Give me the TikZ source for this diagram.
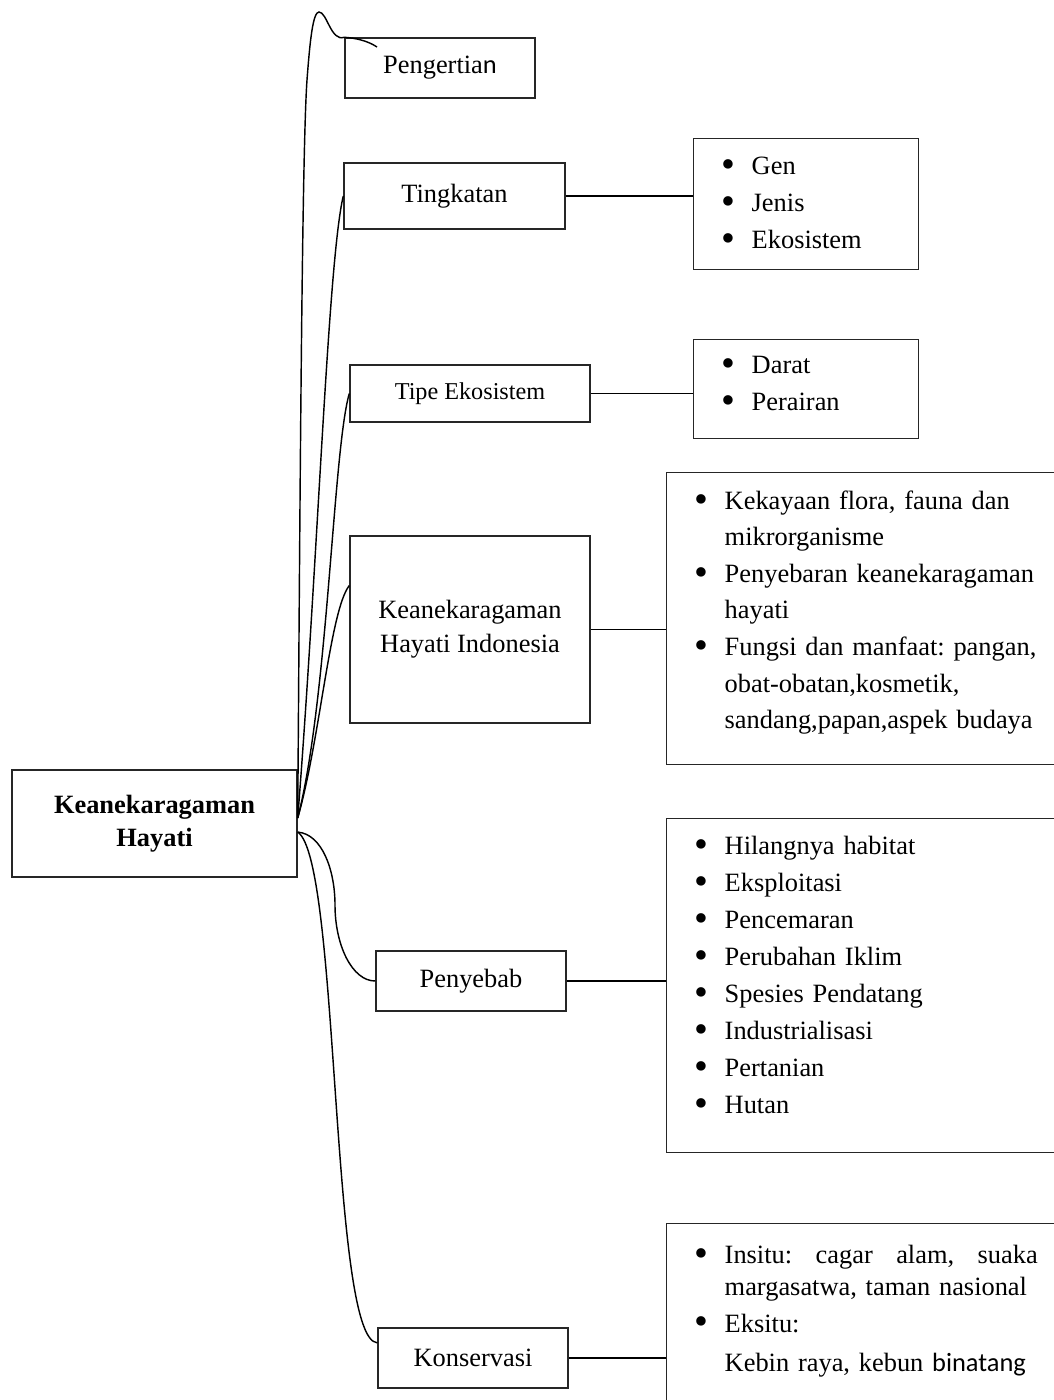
\documentclass[tikz,border=0pt]{standalone}
\usepackage{fontspec}
\setmainfont{Liberation Serif}
\newfontfamily\calibrifont{Carlito}
\usepackage{tikz}
\frenchspacing

% one pixel of the page
\newdimen\pxu
\pxu=0.4545pt
\newcommand{\itm}[1]{\makebox[30\pxu][l]{\raisebox{-1.3pt}{\scalebox{1.5}{\textbullet}}}#1}
\newcommand{\cnt}[1]{\hspace*{30\pxu}#1}
\newcommand{\lift}[1]{\rule[-#1]{0pt}{#1}}

\begin{document}
\begin{tikzpicture}[
    x=0.4545pt, y=-0.4545pt,
    line width=0.65pt,
    node style/.style={draw=black!85, align=center, inner sep=0pt,
      font=\fontsize{12}{15.5}\selectfont},
    list style/.style={draw=black!85, align=left, anchor=north west, inner xsep=28\pxu,
      inner ysep=0pt, font=\fontsize{12}{16.8}\selectfont}
  ]
  \useasboundingbox (0,0) rectangle (1053,1400);

  % Root
  \node[node style, minimum width=285\pxu, minimum height=107\pxu,
    font=\bfseries\fontsize{12}{15}\selectfont] (hayati) at (154.5,823.5)
    {Keanekaragaman\\Hayati};

  % Branches
  \node[node style, minimum width=190\pxu, minimum height=60\pxu] (pengertian) at (440,68)
    {Pengertia{\calibrifont n}};
  \node[node style, minimum width=221\pxu, minimum height=66\pxu] (tingkatan) at (454.5,196)
    {Tingkatan};
  \node[node style, minimum width=240\pxu, minimum height=57\pxu,
    font=\fontsize{11}{13}\selectfont] (tipe) at (470,393.5) {Tipe Ekosistem};
  \node[node style, minimum width=240\pxu, minimum height=187\pxu] (khi) at (470,629.5)
    {Keanekaragaman\\Hayati Indonesia};
  \node[node style, minimum width=190\pxu, minimum height=60\pxu] (penyebab) at (471,981)
    {Penyebab};
  \node[node style, minimum width=190\pxu, minimum height=60\pxu] (konservasi) at (473,1358)
    {Konservasi};

  % Lists
  \node[list style, minimum height=131\pxu, text width=169\pxu] (tingList) at (693,138)
    {\itm{Gen}\\\itm{Jenis}\\\itm{Ekosistem}};
  \node[list style, minimum height=99\pxu, text width=169\pxu] (tipeList) at (693,339)
    {\itm{Darat}\\\itm{Perairan}\lift{5.5pt}};
  \node[list style, minimum height=292\pxu, text width=370\pxu,
    font=\fontsize{12}{16.6}\selectfont] (khiList) at (666,472)
    {\itm{Kekayaan flora, fauna dan}\\\cnt{mikrorganisme}\\
     \itm{Penyebaran keanekaragaman}\\\cnt{hayati}\\
     \itm{Fungsi dan manfaat: pangan,}\\\cnt{obat-obatan,kosmetik,}\\
     \cnt{sandang,papan,aspek budaya}\lift{8.2pt}};
  \node[list style, minimum height=334\pxu, text width=370\pxu] (penList) at (666,818)
    {\itm{Hilangnya habitat}\\\itm{Eksploitasi}\\\itm{Pencemaran}\\
     \itm{Perubahan Iklim}\\\itm{Spesies Pendatang}\\\itm{Industrialisasi}\\
     \itm{Pertanian}\\\itm{Hutan}\lift{9.6pt}};
  \node[list style, minimum height=200\pxu, text width=370\pxu] (konList) at (666,1223)
    {\itm{\makebox[313\pxu][l]{Insitu:\hfill cagar\hfill alam,\hfill suaka}}\\[-2.3pt]
     \cnt{margasatwa, taman nasional}\\\itm{Eksitu:}\\[0.9pt]
     \cnt{Kebin raya, kebun {\calibrifont binatang}}\lift{14.3pt}};

  % Curved links
  \coordinate (hubUp) at ([yshift=2.5pt]hayati.east);
  \coordinate (hubDown) at ([yshift=-3.9pt]hayati.east);
  \coordinate (tail) at (377,47);

  \draw (hubUp) .. controls (300,500) and (302,150) .. (307,80)
    .. controls (310,40) and (313,12) .. (319,12)
    .. controls (327,12) and (331,42) .. (pengertian.north west)
    .. controls (356,38) and (368,41) .. (tail);
  \draw (hubUp) .. controls (318,560) and (328,260) .. (tingkatan.west);
  \draw (hubUp) .. controls (328,700) and (333,450) .. (tipe.west);
  \draw (hubUp) .. controls (320,740) and (330,610) .. (khi.160);
  \draw (hubDown) .. controls (322,834) and (335,870) .. (335,905)
    .. controls (335,945) and (352,981) .. (penyebab.west);
  \draw (hubDown) .. controls (340,860) and (330,1340) .. (konservasi.171);

  % Straight links
  \draw (tingkatan.east) -- (tingkatan.east -| tingList.west);
  \draw (tipe.east) -- (tipe.east -| tipeList.west);
  \draw (khi.east) -- (khi.east -| khiList.west);
  \draw (penyebab.east) -- (penyebab.east -| penList.west);
  \draw (konservasi.east) -- (konservasi.east -| konList.west);
\end{tikzpicture}
\end{document}
